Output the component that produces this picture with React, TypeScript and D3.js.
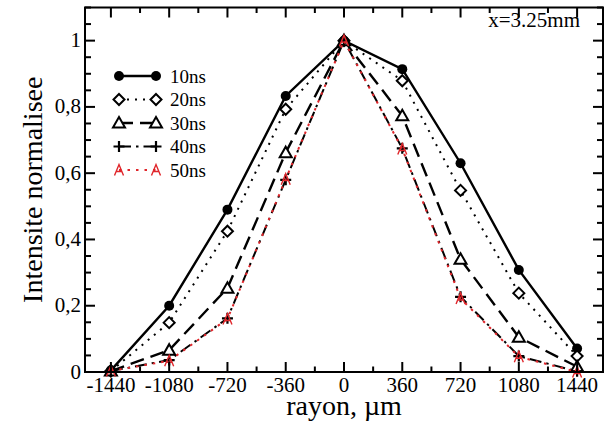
import React from "react";
import * as d3 from "d3";

const radii = [-1440, -1080, -720, -360, 0, 360, 720, 1080, 1440];
const s10 = [0.005, 0.2, 0.49, 0.833, 1.0, 0.914, 0.63, 0.308, 0.071];
const s20 = [0.003, 0.149, 0.425, 0.793, 1.0, 0.879, 0.548, 0.238, 0.048];
const s30 = [0.003, 0.066, 0.253, 0.662, 1.0, 0.773, 0.34, 0.105, 0.016];
const s40 = [0.003, 0.036, 0.162, 0.58, 1.0, 0.675, 0.227, 0.048, 0.002];
const s50 = [0.003, 0.034, 0.16, 0.582, 1.0, 0.673, 0.222, 0.046, 0.0];
const seriesNames = ["10ns", "20ns", "30ns", "40ns", "50ns"];
const xTickLabels = ["-1440", "-1080", "-720", "-360", "0", "360", "720", "1080", "1440"];
const yTickLabels = ["0", "0,2", "0,4", "0,6", "0,8", "1"];

const W = 607, H = 423;
const L = 85, R = 603, T = 7.5, B = 372;
const FONT = "Liberation Serif";
const RED = "#e0262b";

const x = d3.scaleLinear().domain([-1600, 1600]).range([L, R]);
const y = d3.scaleLinear().domain([0, 1.1]).range([B, T]);

type Style = { dash: string; color: string; width: number; marker: string };
const styles: Style[] = [
  { dash: "", color: "#000", width: 2.4, marker: "circle" },
  { dash: "2,6", color: "#000", width: 2, marker: "diamond" },
  { dash: "14,7", color: "#000", width: 2.4, marker: "triangle" },
  { dash: "12,5,2.5,5", color: "#000", width: 2, marker: "plus" },
  { dash: "2.5,6", color: RED, width: 2, marker: "A" },
];
const allSeries = [s10, s20, s30, s40, s50];

function Marker({ kind, cx, cy, color }: { kind: string; cx: number; cy: number; color: string }) {
  if (kind === "circle") return <circle cx={cx} cy={cy} r={5} fill={color} />;
  if (kind === "diamond")
    return (
      <path
        d={`M${cx},${cy - 5.5}L${cx + 5.5},${cy}L${cx},${cy + 5.5}L${cx - 5.5},${cy}Z`}
        fill="#fff"
        stroke={color}
        strokeWidth={2}
      />
    );
  if (kind === "triangle")
    return (
      <path
        d={`M${cx},${cy - 6}L${cx + 6},${cy + 4.5}L${cx - 6},${cy + 4.5}Z`}
        fill="#fff"
        stroke={color}
        strokeWidth={2}
      />
    );
  if (kind === "plus")
    return (
      <path
        d={`M${cx - 5.5},${cy}H${cx + 5.5}M${cx},${cy - 5.5}V${cy + 5.5}`}
        stroke={color}
        strokeWidth={2.2}
        fill="none"
      />
    );
  return (
    <path
      d={`M${cx - 4.5},${cy + 5.5}L${cx},${cy - 5.5}L${cx + 4.5},${cy + 5.5}M${cx - 2.6},${cy + 1.5}H${cx + 2.6}`}
      stroke={color}
      strokeWidth={1.4}
      fill="none"
    />
  );
}

const textStyle = { fontFamily: FONT };

export default function App() {
  const line = d3
    .line<number>()
    .x((_, i) => x(radii[i]))
    .y((d) => y(d));

  const xTicks = d3.range(-1440, 1441, 180);
  const yTicks = d3.range(0, 1.1001, 0.05);

  const legendY = [76, 99.5, 123, 146.5, 170];
  const lgX1 = 119, lgX2 = 156, lgText = 170;

  return (
    <svg
      width={W}
      height={H}
      fontFamily={FONT}
      style={{ position: "absolute", left: 0, top: 0, background: "#fff", fontFamily: FONT }}
    >
      <rect x={0} y={0} width={W} height={H} fill="#fff" />
      {allSeries.map((s, k) => (
        <g key={k}>
          <path
            d={line(s) || ""}
            fill="none"
            stroke={styles[k].color}
            strokeWidth={styles[k].width}
            strokeDasharray={styles[k].dash}
          />
          {s.map((v, i) => (
            <Marker key={i} kind={styles[k].marker} cx={x(radii[i])} cy={y(v)} color={styles[k].color} />
          ))}
        </g>
      ))}
      <rect x={L} y={T} width={R - L} height={B - T} fill="none" stroke="#000" strokeWidth={2} />
      {xTicks.map((t) => {
        const major = Math.abs(t % 360) < 1e-6;
        const len = major ? 10 : 5.5;
        return (
          <g key={t}>
            <line x1={x(t)} x2={x(t)} y1={B} y2={B - len} stroke="#000" strokeWidth={2} />
            <line x1={x(t)} x2={x(t)} y1={T} y2={T + len} stroke="#000" strokeWidth={2} />
          </g>
        );
      })}
      {radii.map((r, i) => (
        <text key={r} x={x(r)} y={392} style={textStyle} fontSize={21} textAnchor="middle" fill="#000">
          {xTickLabels[i]}
        </text>
      ))}
      {yTicks.map((t, i) => {
        const major = i % 4 === 0;
        const len = major ? 10 : 6;
        return (
          <g key={i}>
            <line x1={L} x2={L + len} y1={y(t)} y2={y(t)} stroke="#000" strokeWidth={2} />
            <line x1={R} x2={R - len} y1={y(t)} y2={y(t)} stroke="#000" strokeWidth={2} />
          </g>
        );
      })}
      {yTickLabels.map((lab, i) => (
        <text key={lab} x={81} y={y(i * 0.2) + 6.5} style={textStyle} fontSize={21} textAnchor="end" fill="#000">
          {lab}
        </text>
      ))}
      <text x={(L + R) / 2} y={415} style={textStyle} fontSize={28} textAnchor="middle" fill="#000">
        rayon, µm
      </text>
      <text
        transform={`translate(42,${(T + B) / 2}) rotate(-90)`}
        style={textStyle}
        fontSize={28}
        textAnchor="middle"
        fill="#000"
      >
        Intensite normalisee
      </text>
      <text x={580} y={27} style={textStyle} fontSize={21} textAnchor="end" fill="#000">
        x=3.25mm
      </text>
      {seriesNames.map((name, k) => (
        <g key={name}>
          <line
            x1={lgX1}
            x2={lgX2}
            y1={legendY[k]}
            y2={legendY[k]}
            stroke={styles[k].color}
            strokeWidth={styles[k].width}
            strokeDasharray={styles[k].dash}
          />
          <Marker kind={styles[k].marker} cx={lgX1} cy={legendY[k]} color={styles[k].color} />
          <Marker kind={styles[k].marker} cx={lgX2} cy={legendY[k]} color={styles[k].color} />
          <text x={lgText} y={legendY[k] + 6.5} style={textStyle} fontSize={19} fill="#000">
            {name}
          </text>
        </g>
      ))}
    </svg>
  );
}
